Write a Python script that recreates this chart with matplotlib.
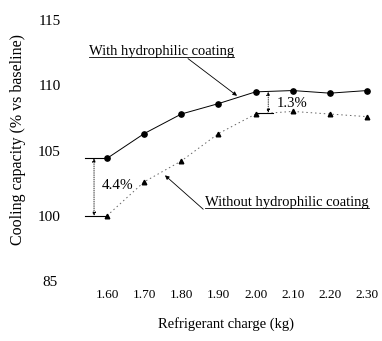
import matplotlib
matplotlib.use("Agg")
import matplotlib.pyplot as plt

# data
charge = [1.60, 1.70, 1.80, 1.90, 2.00, 2.10, 2.20, 2.30]
with_coating = [104.4, 106.3, 107.8, 108.6, 109.5, 109.6, 109.4, 109.6]
without_coating = [100.0, 102.6, 104.2, 106.3, 107.8, 108.0, 107.8, 107.6]

x_ticks = [1.60, 1.70, 1.80, 1.90, 2.00, 2.10, 2.20, 2.30]
x_labels = ["1.60", "1.70", "1.80", "1.90", "2.00", "2.10", "2.20", "2.30"]
y_ticks = [95, 100, 105, 110, 115]
y_labels = ["85", "100", "105", "110", "115"]

plt.rcParams['font.family'] = ['Liberation Serif', 'DejaVu Serif']

fig = plt.figure(figsize=(3.82, 3.41), dpi=100)
ax = fig.add_axes([0.2024, 0.176, 0.7778, 0.765])

ax.plot(charge, with_coating, color='black', lw=0.7, marker='o', ms=3.8)
ax.plot(charge, without_coating, color='#666666', lw=0.7, ls=(0, (1.5, 3)),
        marker='^', ms=3.3, mfc='black', mec='black')

ax.set_xlim(1.52, 2.32)
ax.set_ylim(95, 115)
ax.set_xticks(x_ticks)
ax.set_xticklabels(x_labels, fontsize=9.5)
ax.set_yticks(y_ticks)
ax.set_yticklabels(y_labels, fontsize=11, ha='center')
ax.tick_params(axis='both', length=0)
ax.tick_params(axis='y', pad=20)
ax.tick_params(axis='x', pad=6)
for s in ax.spines.values():
    s.set_visible(False)

ax.set_xlabel("Refrigerant charge (kg)", fontsize=10.5, labelpad=11)
ax.set_ylabel("Cooling capacity (% vs baseline)", fontsize=11.5)
ax.yaxis.set_label_coords(-0.172, 0.542)

# 4.4% gap at 1.60
ax.plot([1.541, 1.60], [with_coating[0], with_coating[0]], color='black', lw=0.8)
ax.plot([1.541, 1.60], [without_coating[0], without_coating[0]], color='black', lw=0.8)
ax.annotate("", xy=(1.565, without_coating[0]), xytext=(1.565, with_coating[0]),
            arrowprops=dict(arrowstyle='<|-|>', lw=0.6, ls=':', color='black',
                            mutation_scale=5, shrinkA=0, shrinkB=0))
ax.text(1.628, 102.3, "4.4%", fontsize=11, ha='center', va='center')

# 1.3% gap near 2.03
ax.plot([2.00, 2.047], [107.9, 107.9], color='black', lw=0.8)
ax.annotate("", xy=(2.034, 107.9), xytext=(2.034, 109.5),
            arrowprops=dict(arrowstyle='<|-|>', lw=0.6, ls=':', color='black',
                            mutation_scale=5, shrinkA=0, shrinkB=0))
ax.text(2.058, 108.6, "1.3%", fontsize=10.5, ha='left', va='center')

# labels with leader arrows
t1 = ax.text(1.747, 112.6, "With hydrophilic coating", fontsize=10.5,
             ha='center', va='center')
ax.annotate("", xy=(1.950, 109.2), xytext=(1.818, 112.05),
            arrowprops=dict(arrowstyle='-|>', lw=0.6, color='black',
                            mutation_scale=6, shrinkA=0, shrinkB=0))
t2 = ax.text(2.084, 101.0, "Without hydrophilic coating", fontsize=10.5,
             ha='center', va='center')
ax.annotate("", xy=(1.756, 103.1), xytext=(1.859, 100.5),
            arrowprops=dict(arrowstyle='-|>', lw=0.6, color='black',
                            mutation_scale=6, shrinkA=0, shrinkB=0))

# underline the two labels
fig.canvas.draw()
r = fig.canvas.get_renderer()
inv = ax.transData.inverted()
for t in (t1, t2):
    bb = t.get_window_extent(renderer=r)
    (x0, y0), (x1, _) = inv.transform([(bb.x0, bb.y0 + 1), (bb.x1, bb.y0 + 1)])
    ax.plot([x0, x1], [y0, y0], color='black', lw=0.6)

fig.savefig("out.png", dpi=100)
